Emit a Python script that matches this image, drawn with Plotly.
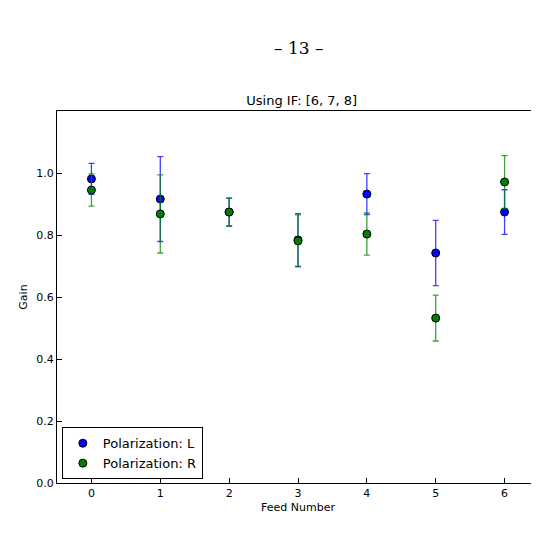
import plotly.graph_objects as go

feeds = [0, 1, 2, 3, 4, 5, 6]
gain_l = [0.981, 0.916, 0.874, 0.784, 0.932, 0.742, 0.874]
err_l = [0.050, 0.137, 0.045, 0.085, 0.066, 0.105, 0.072]
gain_r = [0.945, 0.868, 0.874, 0.781, 0.803, 0.532, 0.971]
err_r = [0.052, 0.126, 0.045, 0.084, 0.068, 0.074, 0.085]

font = "DejaVu Sans"
fig = go.Figure()
for name, y, e, col, ecol in [("Polarization: L", gain_l, err_l, "#0000ff", "rgba(0,0,255,0.75)"),
                              ("Polarization: R", gain_r, err_r, "#007f00", "rgba(0,127,0,0.75)")]:
    fig.add_trace(go.Scatter(
        x=feeds, y=y, mode="markers", name=name,
        marker=dict(size=8, color=col, line=dict(color="black", width=1)),
        error_y=dict(type="data", array=e, color=ecol, thickness=1.3, width=3),
    ))

axis = dict(showline=True, mirror=True, linecolor="black", linewidth=1,
            ticks="inside", ticklen=5, tickcolor="black", showgrid=False,
            zeroline=False, tickfont=dict(size=11, color="black"))
fig.update_xaxes(range=[-0.5, 6.5], dtick=1, title=dict(text="Feed Number", font=dict(size=11), standoff=4), **axis)
fig.update_yaxes(range=[0, 1.2], tickvals=[0, 0.2, 0.4, 0.6, 0.8, 1.0],
                 ticktext=["0.0", "0.2", "0.4", "0.6", "0.8", "1.0"],
                 title=dict(text="Gain", font=dict(size=11), standoff=6), **axis)

fig.update_layout(
    width=539, height=557, margin=dict(l=49, r=8, t=103, b=82),
    paper_bgcolor="white", plot_bgcolor="white",
    font=dict(family=font, color="black"),
    title=dict(text="Using IF: [6, 7, 8]", x=0.545, xanchor="center", y=0.825, yanchor="bottom",
               font=dict(size=13)),
    legend=dict(x=0.01, y=0.01, xanchor="left", yanchor="bottom", bordercolor="black",
                borderwidth=1, bgcolor="white", font=dict(size=13)),
    annotations=[dict(text="– 13 –", x=0.5, xref="paper", y=1.17, yref="paper",
                      yanchor="middle", showarrow=False,
                      font=dict(family="DejaVu Serif", size=17))],
)
fig.write_html("out.html")
